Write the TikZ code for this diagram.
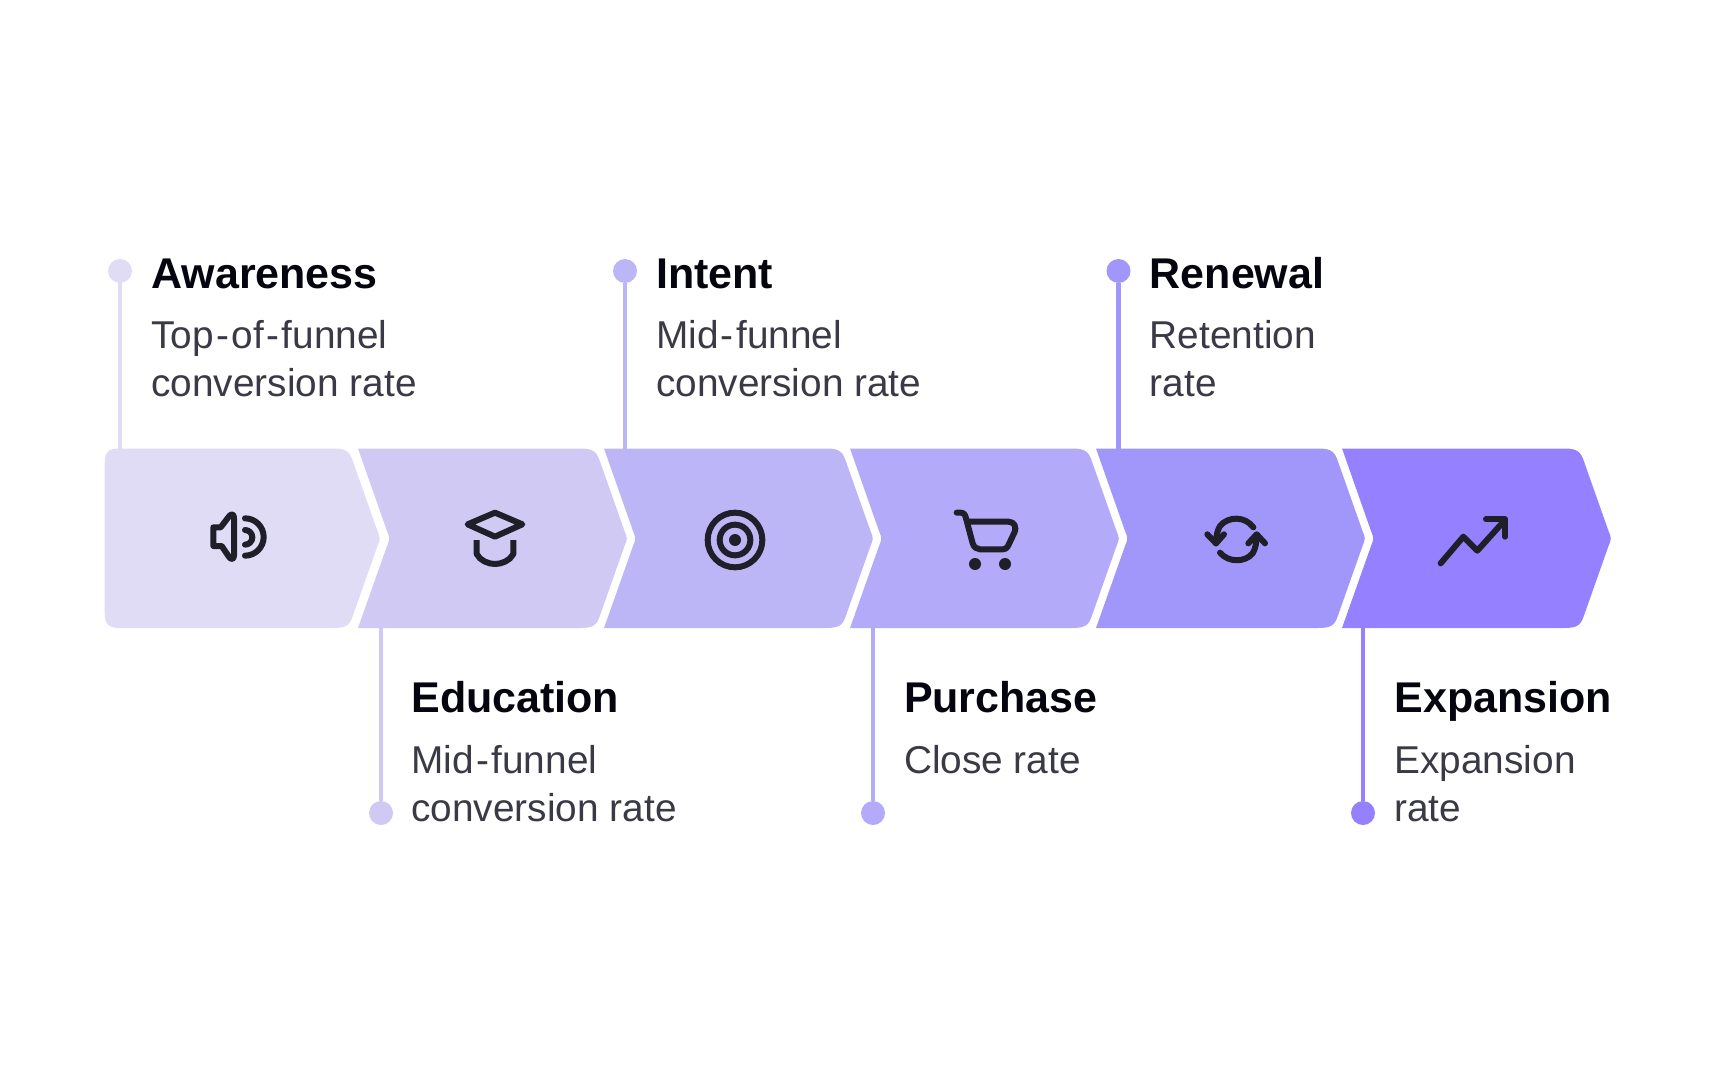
\documentclass[tikz,border=0pt]{standalone}
\usepackage{fontspec}
\setmainfont{Liberation Sans}
\definecolor{cA}{HTML}{E0DCF5}
\definecolor{cB}{HTML}{CFC9F4}
\definecolor{cC}{HTML}{BDB6F6}
\definecolor{cD}{HTML}{B3AAF9}
\definecolor{cE}{HTML}{A196FA}
\definecolor{cF}{HTML}{9580FF}
\definecolor{headc}{HTML}{05050F}
\definecolor{bodyc}{HTML}{3A3A46}
\definecolor{iconc}{HTML}{1F1F29}
\newcommand\hy{\kern1.2pt-\kern1.2pt}
\tikzset{
  dot/.style={circle,inner sep=0pt,minimum size=12pt,fill=#1},
  link/.style={line width=2.2pt,draw=#1},
  head/.style={anchor=base west,inner sep=0pt,text=headc,font=\fontsize{21.5}{24}\selectfont\bfseries},
  body/.style={anchor=base west,inner sep=0pt,text=bodyc,align=left,font=\fontsize{19.4}{24}\selectfont},
  ico/.style={draw=iconc,line width=3pt,line cap=round,line join=round},
}
\newcommand\stagechev[2]{%
  \begin{scope}[shift={(#1,0)}]
    \fill[#2] (0,448.5) -- (222,448.5) .. controls (236,448.5) and (239,452) .. (242.5,463)
      -- (266.5,531) .. controls (269.5,538.5) .. (266.5,546)
      -- (242.5,614) .. controls (239,625) and (236,628) .. (222,628) -- (0,628)
      -- (29,546) .. controls (32,538.5) .. (29,531) -- cycle;
  \end{scope}}
\begin{document}
\begin{tikzpicture}[x=0.5pt,y=-0.5pt]
\useasboundingbox (0,0) rectangle (1728,1080);
% chevron attachment points
\coordinate (s1) at (120,450);
\coordinate (s2) at (381,626);
\coordinate (s3) at (625,450);
\coordinate (s4) at (873,626);
\coordinate (s5) at (1118.5,450);
\coordinate (s6) at (1363,626);
% dots
\node[dot=cA] (d1) at (120,271) {};
\node[dot=cB] (d2) at (381,813) {};
\node[dot=cC] (d3) at (625,271) {};
\node[dot=cD] (d4) at (873,813) {};
\node[dot=cE] (d5) at (1118.5,271) {};
\node[dot=cF] (d6) at (1363,813) {};
\draw[link=cA] (d1) -- (s1);
\draw[link=cB] (d2) -- (s2);
\draw[link=cC] (d3) -- (s3);
\draw[link=cD] (d4) -- (s4);
\draw[link=cE] (d5) -- (s5);
\draw[link=cF] (d6) -- (s6);
% chevrons
\fill[cA] (120,448.5) -- (333,448.5) .. controls (347,448.5) and (350,452) .. (353.5,463)
  -- (377.5,531) .. controls (380.5,538.5) .. (377.5,546)
  -- (353.5,614) .. controls (350,625) and (347,628) .. (333,628) -- (120,628)
  .. controls (108,628) and (104.7,624) .. (104.7,612) -- (104.7,464.5)
  .. controls (104.7,452) and (108,448.5) .. (120,448.5) -- cycle;
\stagechev{358}{cB}
\stagechev{604}{cC}
\stagechev{850}{cD}
\stagechev{1096}{cE}
\stagechev{1342}{cF}
% labels
\node[head] (h1) at (151,288.7) {Awareness};
\node[body] (b1) at (151,396.7) {Top\hy of\hy funnel\\conversion rate};
\node[head] (h2) at (411,712) {Education};
\node[body] (b2) at (411,821) {Mid\hy funnel\\conversion rate};
\node[head] (h3) at (655.7,288.7) {Intent};
\node[body] (b3) at (655.7,396.7) {Mid\hy funnel\\conversion rate};
\node[head] (h4) at (903.6,712) {Purchase};
\node[body] (b4) at (903.6,773.5) {Close rate};
\node[head] (h5) at (1149.4,288.7) {Renewal};
\node[body] (b5) at (1149.4,396.7) {Retention\\rate};
\node[head] (h6) at (1394,712) {Expansion};
\node[body] (b6) at (1394,821) {Expansion\\rate};
% icons
\begin{scope}[shift={(180,490)},scale=1/3]
  \draw[ico] (100,112) -- (122,112) -- (148,78) .. controls (155,70) and (162,72) .. (162,85)
    -- (162,195) .. controls (162,208) and (155,210) .. (148,202) -- (125,168) -- (100,168) -- cycle;
  \draw[ico] (195,85) arc[start angle=-90,end angle=90,radius=56];
  \draw[ico] (195,120) arc[start angle=-90,end angle=90,radius=22];
\end{scope}
\begin{scope}[shift={(445,490)},scale=1/3]
  \draw[ico] (150,68) -- (232,103) -- (150,140) -- (68,103) -- cycle;
  \draw[ico,line cap=butt] (95,150) -- (95,192) .. controls (105,212) and (130,222) .. (150,222)
    .. controls (170,222) and (195,212) .. (205,192) -- (205,150);
\end{scope}
\begin{scope}[shift={(690,490)},scale=1/3]
  \draw[ico] (135,150) circle[radius=82];
  \draw[ico] (135,150) circle[radius=46];
  \fill[iconc] (135,150) circle[radius=18];
\end{scope}
\begin{scope}[shift={(940,490)},scale=1/3]
  \draw[ico] (50,68) -- (62,68) .. controls (72,68) and (76,75) .. (78,85) -- (98,160)
    .. controls (102,172) and (110,178) .. (120,178) -- (188,178) .. controls (196,178) and (200,175) .. (204,168)
    -- (222,130) .. controls (232,110) and (222,95) .. (205,95) -- (84,95);
  \fill[iconc] (105,222) circle[radius=18];
  \fill[iconc] (195,222) circle[radius=18];
\end{scope}
\begin{scope}[shift={(1190,490)},scale=1/3]
  \draw[ico] (190,112) .. controls (165,78) and (115,78) .. (90,108) .. controls (82,120) and (78,140) .. (78,160);
  \draw[ico] (52,133) -- (78,160) -- (102,133);
  \draw[ico] (90,188) .. controls (115,218) and (165,218) .. (188,190) .. controls (197,175) and (200,155) .. (200,135);
  \draw[ico] (175,160) -- (200,133) -- (225,160);
\end{scope}
\begin{scope}[shift={(1430,490)},scale=1/3]
  \draw[ico] (32,220) -- (100,140) -- (142,182) -- (225,90);
  \draw[ico] (168,88) -- (225,88) -- (225,140);
\end{scope}
\end{tikzpicture}
\end{document}
